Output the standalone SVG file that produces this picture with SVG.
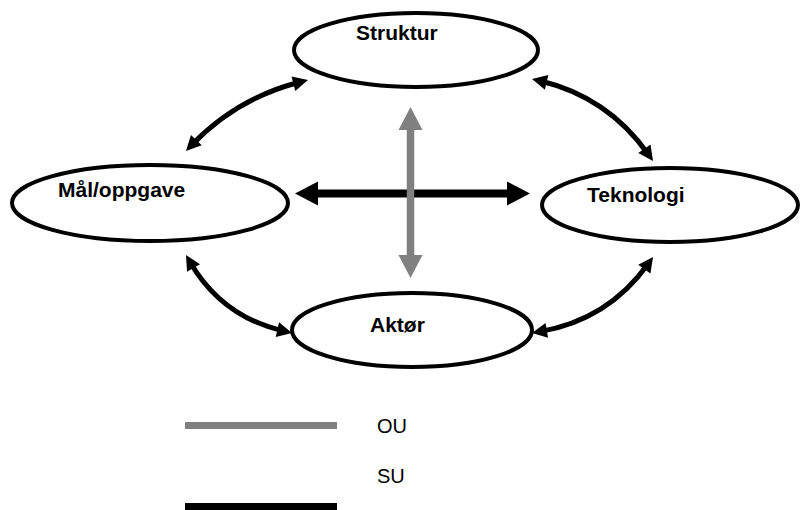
<svg xmlns="http://www.w3.org/2000/svg" width="800" height="510" viewBox="0 0 800 510">
<style>
.node{fill:#fff;stroke:#000;stroke-width:4}
.lbl{font-family:"Liberation Sans",Arial,sans-serif;font-size:21px;font-weight:bold;fill:#000}
.leg{font-family:"Liberation Sans",Arial,sans-serif;font-size:20px;fill:#000}
.curve{fill:none;stroke:#000;stroke-width:5;marker-start:url(#ah);marker-end:url(#ah)}
</style>
<defs>
<marker id="ah" markerUnits="userSpaceOnUse" markerWidth="16" markerHeight="16" refX="7" refY="7.5" orient="auto-start-reverse" overflow="visible">
<path d="M0,0 L15,7.5 L0,15 z" fill="#000"/>
</marker>
<marker id="bigk" markerUnits="userSpaceOnUse" markerWidth="24" markerHeight="24" refX="13" refY="12" orient="auto-start-reverse" overflow="visible">
<path d="M0,0 L23,12 L0,24 z" fill="#000"/>
</marker>
<marker id="bigg" markerUnits="userSpaceOnUse" markerWidth="24" markerHeight="24" refX="13" refY="12" orient="auto-start-reverse" overflow="visible">
<path d="M0,0 L23,12 L0,24 z" fill="#808080"/>
</marker>
</defs>
<g id="connectors">
<path class="curve" d="M191.5,145.2 Q237,98 300.2,82"/>
<path class="curve" d="M539.8,80.8 Q608,97 648.4,154.5"/>
<path class="curve" d="M190,261.9 Q222,317 284.2,331.2"/>
<path class="curve" d="M539.9,331.6 Q608,320 648.4,263.5"/>
<line x1="305" y1="193.5" x2="520" y2="193.5" stroke="#000" stroke-width="8" marker-start="url(#bigk)" marker-end="url(#bigk)"/>
<line x1="410.5" y1="117" x2="410.5" y2="268" stroke="#808080" stroke-width="7.5" marker-start="url(#bigg)" marker-end="url(#bigg)"/>
</g>
<g id="struktur">
<ellipse class="node" cx="416" cy="50" rx="122" ry="37"/>
<text class="lbl" x="356" y="40">Struktur</text>
</g>
<g id="maal">
<ellipse class="node" cx="150" cy="203" rx="138" ry="38"/>
<text class="lbl" x="58" y="197">Mål/oppgave</text>
</g>
<g id="teknologi">
<ellipse class="node" cx="670" cy="205" rx="128" ry="37"/>
<text class="lbl" x="587" y="202">Teknologi</text>
</g>
<g id="aktor">
<ellipse class="node" cx="412" cy="330" rx="120" ry="37"/>
<text class="lbl" x="370" y="332">Aktør</text>
</g>
<g id="legend">
<line x1="185" y1="425.5" x2="337" y2="425.5" stroke="#808080" stroke-width="7"/>
<text class="leg" x="377" y="433">OU</text>
<text class="leg" x="377" y="483">SU</text>
<line x1="185" y1="507" x2="337" y2="507" stroke="#000" stroke-width="8"/>
</g>
</svg>
